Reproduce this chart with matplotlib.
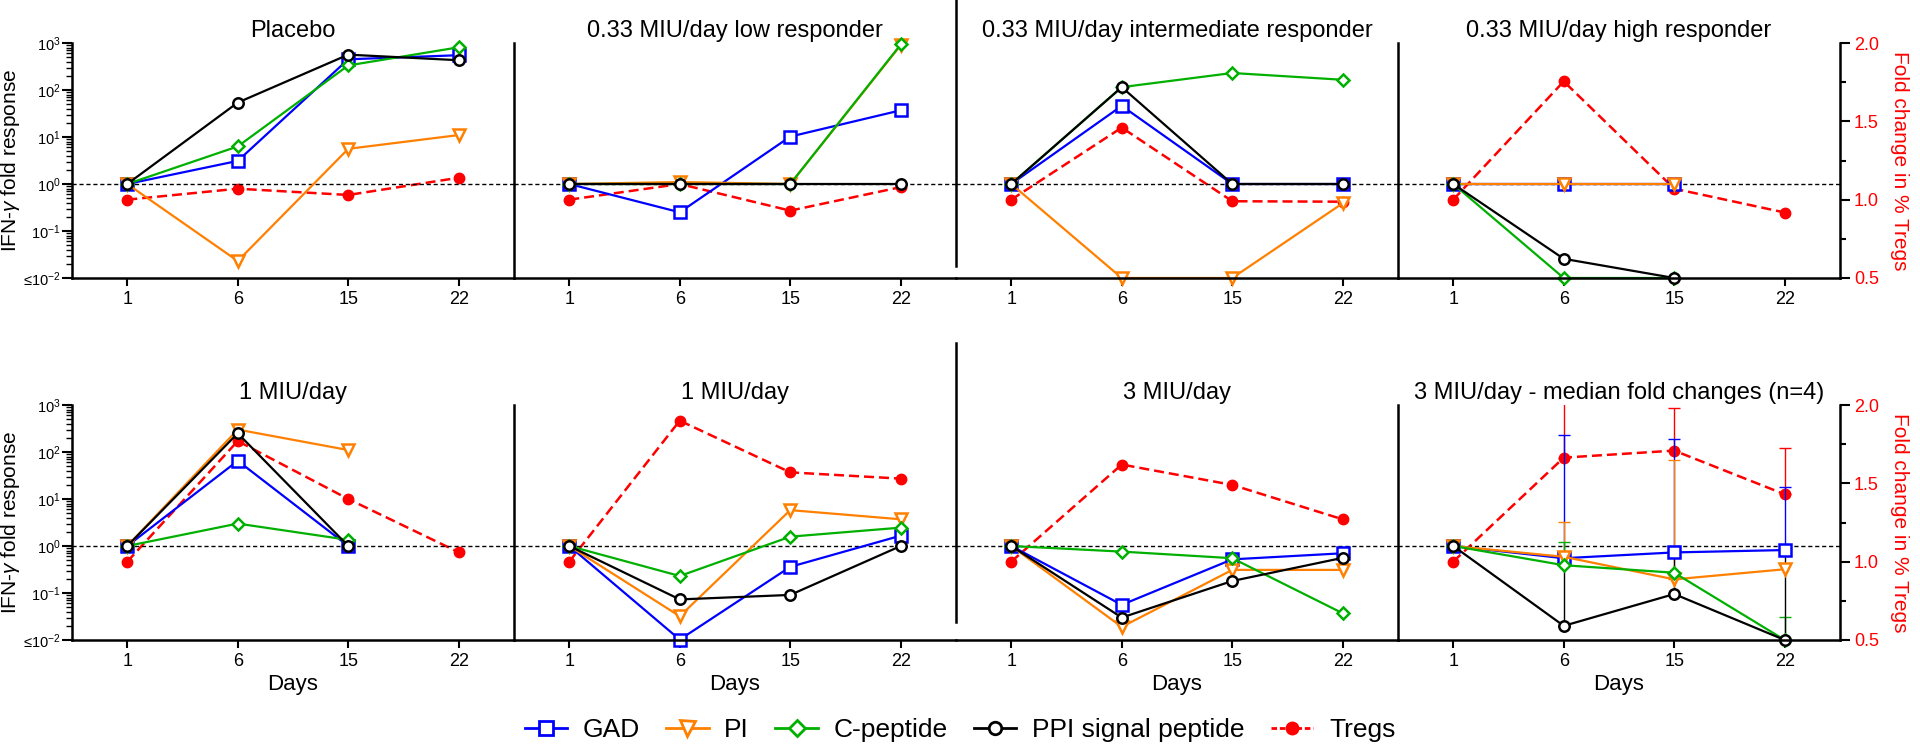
import numpy as np
import matplotlib
matplotlib.use('Agg')
import matplotlib.pyplot as plt
from matplotlib.lines import Line2D
from matplotlib.ticker import LogLocator, FixedLocator, NullFormatter

plt.rcParams['font.family'] = ['Liberation Sans', 'DejaVu Sans']
plt.rcParams['mathtext.fontset'] = 'custom'
plt.rcParams['mathtext.rm'] = 'Liberation Sans'
plt.rcParams['mathtext.it'] = 'Liberation Sans:italic'
plt.rcParams['mathtext.bf'] = 'Liberation Sans:bold'

nan = np.nan

# ---------------- data ----------------
days = ['1', '6', '15', '22']
titles = ['Placebo', '0.33 MIU/day low responder', '0.33 MIU/day intermediate responder',
          '0.33 MIU/day high responder', '1 MIU/day', '1 MIU/day', '3 MIU/day',
          '3 MIU/day - median fold changes (n=4)']

gad = [[1, 3.1, 450, 550], [1, 0.25, 10.2, 37], [1, 46, 1, 1], [1, 1, 1, nan],
       [1, 65, 1, nan], [1, 0.0102, 0.36, 1.66], [1, 0.056, 0.52, 0.70], [1, 0.55, 0.73, 0.82]]
pi = [[1, 0.023, 5.6, 11], [1, 1.1, 1, 900], [1, 0.01, 0.01, 0.39], [1, 1, 1, nan],
      [1, 300, 110, nan], [1, 0.032, 5.8, 3.7], [1, 0.019, 0.31, 0.31], [1, 0.59, 0.195, 0.32]]
cpep = [[1, 6.3, 333, 810], [1, 1, 1, 930], [1, 115, 230, 165], [1, 0.01, 0.01, nan],
        [1, 3.0, 1.35, nan], [1, 0.23, 1.58, 2.46], [1, 0.76, 0.55, 0.037], [1, 0.39, 0.27, 0.01]]
ppi = [[1, 54, 565, 430], [1, 1, 1, 1], [1, 115, 1, 1], [1, 0.0256, 0.01, nan],
       [1, 250, 1, nan], [1, 0.073, 0.091, 1], [1, 0.030, 0.18, 0.56], [1, 0.020, 0.095, 0.01]]
tregs = [[1, 1.07, 1.03, 1.14], [1, 1.1, 0.93, 1.08], [1, 1.46, 0.99, 0.987], [1, 1.755, 1.07, 0.918],
         [1, 1.77, 1.40, 1.06], [1, 1.90, 1.57, 1.53], [1, 1.62, 1.49, 1.27], [1, 1.664, 1.709, 1.43]]

# upper error limits for the median panel (last panel)
gad_hi = [nan, 230, 190, 18]
pi_hi = [nan, 3.2, 68, nan]
cpep_hi = [nan, 1.22, nan, 0.031]
ppi_hi = [nan, 0.74, 0.87, 0.75]
tregs_hi = [nan, 2.1, 1.98, 1.725]

left_ticks = [0.01, 0.1, 1, 10, 100, 1000]
left_ticklabels = ['≤$10^{-2}$', '$10^{-1}$', '$10^{0}$', '$10^{1}$', '$10^{2}$', '$10^{3}$']
right_ticks = [0.5, 1.0, 1.5, 2.0]
right_ticklabels = ['0.5', '1.0', '1.5', '2.0']

# ---------------- style ----------------
BLUE = '#0000FF'
ORANGE = '#FF8000'
GREEN = '#00B000'
RED = '#FF0000'
BLACK = '#000000'

series = [
    (gad, gad_hi, 'GAD', BLUE, 's', 8),
    (pi, pi_hi, 'PI', ORANGE, 'v', 9),
    (cpep, cpep_hi, 'C-peptide', GREEN, 'D', 6.5),
    (ppi, ppi_hi, 'PPI signal peptide', BLACK, 'o', 7.5),
]

W, H = 1920, 753
fig = plt.figure(figsize=(W / 100, H / 100), dpi=100)
lefts_px = [72, 514, 956, 1398]
w_px = 442
rows_px = [(43, 278), (405, 640)]
SPW = 1.8

x = np.arange(len(days))

for r in range(2):
    for c in range(4):
        i = r * 4 + c
        top, bot = rows_px[r]
        ax = fig.add_axes([lefts_px[c] / W, 1 - bot / H, w_px / W, (bot - top) / H])
        ax2 = ax.twinx()
        ax2.set_zorder(1)
        ax.set_zorder(2)
        ax.patch.set_visible(False)

        ax.set_yscale('log')
        ax.set_ylim(0.01, 1000)
        ax.set_xlim(-0.5, 3.5)
        ax2.set_ylim(0.5, 2.0)

        # reference line
        ax.axhline(1, color='black', lw=1.0, ls=(0, (3, 2)), zorder=0.5)

        # Tregs on right axis
        if i == 7:
            idx = [k for k in range(4) if not np.isnan(tregs_hi[k])]
            ax2.errorbar(x[idx], np.array(tregs[i])[idx],
                         yerr=[np.zeros(len(idx)), np.array(tregs_hi)[idx] - np.array(tregs[i])[idx]],
                         fmt='none', ecolor=RED, elinewidth=1.0, capsize=4, capthick=1.0)
        ax2.plot(x, tregs[i], color=RED, lw=1.8, ls=(0, (4, 2)), marker='o', ms=7.5,
                 mfc=RED, mec=RED, clip_on=False)

        for vals, hi, label, color, m, ms in series:
            if i == 7:
                idx = [k for k in range(4) if not np.isnan(hi[k])]
                v = np.array(vals[i])[idx]
                ax.errorbar(x[idx], v, yerr=[np.zeros(len(idx)), np.array(hi)[idx] - v],
                            fmt='none', ecolor=color, elinewidth=1.0, capsize=4, capthick=1.0)
        for vals, hi, label, color, m, ms in series:
            ax.plot(x, vals[i], color=color, lw=1.6, marker=m, ms=ms, mfc='white', mec=color,
                    mew=1.8, clip_on=False)

        ax.set_title(titles[i], fontsize=17, pad=4)

        # spines
        ax.spines['top'].set_visible(False)
        ax.spines['right'].set_visible(False)
        ax.spines['bottom'].set_linewidth(SPW)
        ax.spines['left'].set_linewidth(SPW)
        if c == 2:
            ax.spines['left'].set_visible(False)
        for s in ['top', 'left', 'bottom']:
            ax2.spines[s].set_visible(False)
        ax2.spines['right'].set_visible(c == 3)
        ax2.spines['right'].set_linewidth(SPW)

        # x ticks
        ax.set_xticks(x)
        ax.set_xticklabels(days, fontsize=13)
        ax.tick_params(axis='x', length=6, width=1.5, pad=3)
        if r == 1:
            ax.set_xlabel('Days', fontsize=16, labelpad=3)

        # left y ticks
        ax.yaxis.set_major_locator(FixedLocator(left_ticks))
        ax.yaxis.set_minor_locator(LogLocator(base=10, subs=np.arange(2, 10), numticks=20))
        ax.yaxis.set_minor_formatter(NullFormatter())
        if c == 0:
            ax.set_yticklabels(left_ticklabels, fontsize=10.5)
            ax.tick_params(axis='y', which='major', length=7, width=1.5, pad=1)
            ax.tick_params(axis='y', which='minor', length=4, width=1.0)
            ax.set_ylabel('IFN-$\\gamma$ fold response', fontsize=15)
            ax.yaxis.set_label_coords(-0.112, 0.5)
        else:
            ax.tick_params(axis='y', which='both', left=False, labelleft=False)

        # right y ticks
        if c == 3:
            ax2.yaxis.set_major_locator(FixedLocator(right_ticks))
            ax2.yaxis.set_minor_locator(FixedLocator([0.75, 1.25, 1.75]))
            ax2.set_yticklabels(right_ticklabels, fontsize=13, color=RED)
            ax2.tick_params(axis='y', which='major', length=7, width=1.5, pad=3)
            ax2.tick_params(axis='y', which='minor', length=4, width=1.5)
            ax2.set_ylabel('Fold change in % Tregs', fontsize=15, color=RED, rotation=270,
                           labelpad=22)
        else:
            ax2.tick_params(axis='y', which='both', right=False, labelright=False)

# separator lines around the third column (composite figure borders)
xs = lefts_px[2] / W
fig.add_artist(Line2D([xs, xs], [1.0, 1 - 266 / H], transform=fig.transFigure,
                      color='black', lw=SPW))
fig.add_artist(Line2D([xs, xs], [1 - 343 / H, 1 - 622 / H], transform=fig.transFigure,
                      color='black', lw=SPW))

# legend
handles = []
labels = []
for vals, hi, label, color, m, ms in series:
    handles.append(Line2D([], [], color=color, lw=2.0, marker=m, ms=ms * 1.2, mfc='white',
                          mec=color, mew=2.0))
    labels.append(label)
handles.append(Line2D([], [], color=RED, lw=2.0, ls=(0, (2, 1)), marker='o', ms=9, mfc=RED, mec=RED))
labels.append('Tregs')
fig.legend(handles, labels, loc='center', bbox_to_anchor=(0.5, 1 - 730 / H), ncol=5,
           frameon=False, fontsize=19, handlelength=1.6, handletextpad=0.6, columnspacing=1.0)

fig.savefig('out.png', dpi=100)
